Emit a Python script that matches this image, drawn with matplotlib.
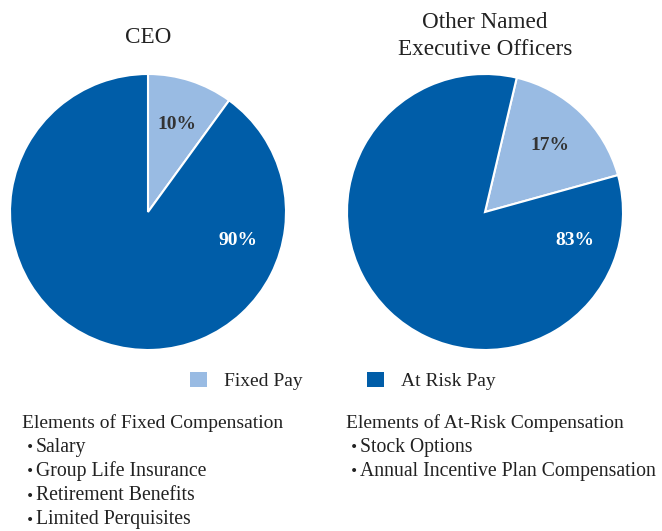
import numpy as np
import matplotlib.pyplot as plt
from matplotlib.patches import Patch

plt.rcParams['font.family'] = ['Liberation Serif', 'DejaVu Serif']

# data
categories = ["Fixed Pay", "At Risk Pay"]
ceo_values = [10, 90]
neo_values = [17, 83]
titles = ["CEO", "Other Named\nExecutive Officers"]
fixed_elements = ["Salary", "Group Life Insurance", "Retirement Benefits", "Limited Perquisites"]
risk_elements = ["Stock Options", "Annual Incentive Plan Compensation"]

LIGHT = "#99bbe3"
DARK = "#005da8"
TXT = "#222222"
W, H = 662, 531

fig = plt.figure(figsize=(W / 100, H / 100), dpi=100)


def draw_pie(rect, values, start, title, title_y):
    ax = fig.add_axes(rect)
    ax.pie(values, colors=[LIGHT, DARK], startangle=start, counterclock=False,
           wedgeprops=dict(edgecolor="white", linewidth=1.5))
    # small slice label at the slice middle, big slice label on the right side
    a0 = start - values[0] / sum(values) * 360 / 2
    for ang, v, col in [(a0, values[0], "#333333"), (-17, values[1], "white")]:
        r = np.deg2rad(ang)
        ax.text(0.68 * np.cos(r), 0.68 * np.sin(r) - 0.01, f"{v}%", ha="center", va="center",
                fontsize=14, fontweight="bold", color=col)
    ax.set_xlim(-1, 1)
    ax.set_ylim(-1, 1)
    ax.set_aspect("equal")
    cx = rect[0] + rect[2] / 2
    fig.text(cx, title_y, title, ha="center", va="center", fontsize=16.7,
             color=TXT, linespacing=1.35)


draw_pie([10 / W, 181 / H, 276 / W, 276 / H], ceo_values, 90, titles[0], 1 - 37 / H)
draw_pie([347 / W, 181 / H, 276 / W, 276 / H], neo_values, 76.7, titles[1], 1 - 36 / H)

handles = [Patch(facecolor=LIGHT), Patch(facecolor=DARK)]
fig.legend(handles, categories, loc="center", bbox_to_anchor=(0.518, 1 - 381 / H), ncol=2,
           frameon=False, fontsize=14, handlelength=0.85, handleheight=0.85,
           columnspacing=3.3, handletextpad=0.9, labelcolor=TXT)


def bullet_list(x, header, items):
    y0 = 423
    step = 24.2
    fig.text(x / W, 1 - y0 / H, header, fontsize=14, va="center", color=TXT,
             family="Liberation Serif")
    for i, s in enumerate(items):
        y = 1 - (y0 + step * (i + 1)) / H
        fig.text((x + 4) / W, y, "\u2022", fontsize=10, va="center", color=TXT, family="DejaVu Sans")
        fig.text((x + 14) / W, y, s, fontsize=14.2, va="center", color=TXT,
                 family="Liberation Serif")


bullet_list(22, "Elements of Fixed Compensation", fixed_elements)
bullet_list(346, "Elements of At-Risk Compensation", risk_elements)

fig.savefig("out.png", dpi=100)
